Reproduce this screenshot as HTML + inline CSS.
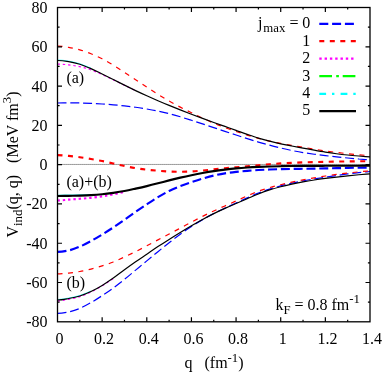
<!DOCTYPE html>
<html><head><meta charset="utf-8"><style>
html,body{margin:0;padding:0;background:#fff;}
body{width:382px;height:373px;overflow:hidden;}
svg{display:block;filter:blur(0.45px);}
text{font-family:"Liberation Serif",serif;font-size:16px;fill:#000;}
</style></head><body>
<svg width="382" height="373" viewBox="0 0 382 373">
<rect width="382" height="373" fill="#fff"/>
<path d="M57.5 164.45 H370.0" stroke="#000" stroke-width="0.7" stroke-dasharray="1.1 0.9" fill="none"/>
<g>
<path d="M57.50 103.00 C61.22 103.00 64.94 102.90 68.66 102.89 C72.38 102.89 76.10 102.88 79.82 102.96 C83.54 103.03 87.26 103.16 90.98 103.33 C94.70 103.50 98.42 103.73 102.14 103.98 C105.86 104.23 109.58 104.51 113.30 104.83 C117.02 105.15 120.74 105.49 124.46 105.89 C128.18 106.30 131.90 106.74 135.62 107.25 C139.35 107.77 143.07 108.36 146.79 108.98 C150.51 109.61 154.23 110.24 157.95 111.01 C161.67 111.79 165.39 112.68 169.11 113.64 C172.83 114.60 176.55 115.69 180.27 116.79 C183.99 117.90 187.71 119.09 191.43 120.27 C195.15 121.46 198.87 122.68 202.59 123.90 C206.31 125.12 210.03 126.36 213.75 127.60 C217.47 128.83 221.19 130.08 224.91 131.32 C228.63 132.55 232.35 133.80 236.07 135.02 C239.79 136.24 243.51 137.47 247.23 138.64 C250.95 139.82 254.67 140.98 258.39 142.07 C262.11 143.17 265.83 144.21 269.55 145.20 C273.27 146.19 276.99 147.13 280.71 148.01 C284.43 148.89 288.15 149.72 291.88 150.47 C295.60 151.23 299.32 151.93 303.04 152.56 C306.76 153.18 310.48 153.72 314.20 154.24 C317.92 154.75 321.64 155.19 325.36 155.63 C329.08 156.07 332.80 156.48 336.52 156.87 C340.24 157.27 343.96 157.64 347.68 157.99 C351.40 158.34 355.12 158.66 358.84 158.98 C362.56 159.30 366.28 159.59 370.00 159.90" fill="none" stroke="#0000ff" stroke-width="1.2" stroke-dasharray="9 3.8"/>
<path d="M57.50 45.99 C61.22 45.99 64.94 46.71 68.66 47.35 C72.38 48.00 76.10 48.78 79.82 49.84 C83.54 50.91 87.26 52.24 90.98 53.73 C94.70 55.23 98.42 56.93 102.14 58.83 C105.86 60.73 109.58 62.91 113.30 65.15 C117.02 67.40 120.74 69.87 124.46 72.30 C128.18 74.72 131.90 77.23 135.62 79.70 C139.35 82.17 143.07 84.68 146.79 87.13 C150.51 89.57 154.23 92.03 157.95 94.36 C161.67 96.68 165.39 98.95 169.11 101.08 C172.83 103.21 176.55 105.18 180.27 107.13 C183.99 109.07 187.71 110.90 191.43 112.74 C195.15 114.58 198.87 116.42 202.59 118.16 C206.31 119.90 210.03 121.62 213.75 123.18 C217.47 124.75 221.19 126.19 224.91 127.57 C228.63 128.96 232.35 130.23 236.07 131.48 C239.79 132.74 243.51 133.96 247.23 135.10 C250.95 136.25 254.67 137.35 258.39 138.34 C262.11 139.34 265.83 140.24 269.55 141.08 C273.27 141.92 276.99 142.67 280.71 143.39 C284.43 144.10 288.15 144.74 291.88 145.39 C295.60 146.04 299.32 146.65 303.04 147.28 C306.76 147.91 310.48 148.56 314.20 149.17 C317.92 149.79 321.64 150.40 325.36 150.95 C329.08 151.49 332.80 151.99 336.52 152.45 C340.24 152.91 343.96 153.31 347.68 153.69 C351.40 154.07 355.12 154.41 358.84 154.74 C362.56 155.08 366.28 155.38 370.00 155.70" fill="none" stroke="#ff0000" stroke-width="1.2" stroke-dasharray="5 5.5"/>
<path d="M57.50 64.09 C61.22 64.09 64.94 64.47 68.66 64.90 C72.38 65.33 76.10 65.81 79.82 66.65 C83.54 67.49 87.26 68.63 90.98 69.96 C94.70 71.28 98.42 72.95 102.14 74.60 C105.86 76.25 109.58 78.07 113.30 79.85 C117.02 81.64 120.74 83.50 124.46 85.31 C128.18 87.11 131.90 88.90 135.62 90.70" fill="none" stroke="#ff00ff" stroke-width="1.2" stroke-dasharray="2.4 2.9"/>
<path d="M57.50 59.99 C61.22 59.99 64.94 60.52 68.66 61.14 C72.38 61.77 76.10 62.59 79.82 63.75 C83.54 64.92 87.26 66.68 90.98 68.14" fill="none" stroke="#00ffff" stroke-width="1.0" opacity="0.7"/>
<path d="M57.50 60.49 C61.22 60.49 64.94 61.02 68.66 61.64 C72.38 62.27 76.10 63.09 79.82 64.25 C83.54 65.42 87.26 67.03 90.98 68.64 C94.70 70.26 98.42 72.14 102.14 73.95 C105.86 75.77 109.58 77.65 113.30 79.52 C117.02 81.39 120.74 83.31 124.46 85.16 C128.18 87.01 131.90 88.85 135.62 90.62 C139.35 92.39 143.07 94.09 146.79 95.77 C150.51 97.46 154.23 99.13 157.95 100.74 C161.67 102.34 165.39 103.89 169.11 105.41 C172.83 106.93 176.55 108.41 180.27 109.88 C183.99 111.35 187.71 112.79 191.43 114.21 C195.15 115.63 198.87 117.03 202.59 118.41 C206.31 119.78 210.03 121.13 213.75 122.46 C217.47 123.79 221.19 125.08 224.91 126.39 C228.63 127.70 232.35 129.00 236.07 130.32 C239.79 131.65 243.51 133.04 247.23 134.33 C250.95 135.62 254.67 136.93 258.39 138.08 C262.11 139.22 265.83 140.25 269.55 141.20 C273.27 142.16 276.99 142.99 280.71 143.79 C284.43 144.59 288.15 145.29 291.88 146.01 C295.60 146.73 299.32 147.40 303.04 148.10 C306.76 148.79 310.48 149.52 314.20 150.19 C317.92 150.87 321.64 151.55 325.36 152.14 C329.08 152.72 332.80 153.25 336.52 153.73 C340.24 154.20 343.96 154.61 347.68 154.99 C351.40 155.37 355.12 155.69 358.84 156.01 C362.56 156.32 366.28 156.60 370.00 156.90" fill="none" stroke="#000" stroke-width="1.2"/>
<path d="M57.50 313.41 C61.22 313.41 64.94 312.81 68.66 311.97 C72.38 311.13 76.10 309.94 79.82 308.38 C83.54 306.81 87.26 304.71 90.98 302.59 C94.70 300.48 98.42 298.10 102.14 295.66 C105.86 293.23 109.58 290.69 113.30 287.98 C117.02 285.27 120.74 282.36 124.46 279.39 C128.18 276.41 131.90 273.22 135.62 270.13 C139.35 267.04 143.07 263.91 146.79 260.84 C150.51 257.76 154.23 254.70 157.95 251.69 C161.67 248.68 165.39 245.69 169.11 242.76 C172.83 239.84 176.55 236.88 180.27 234.16 C183.99 231.44 187.71 228.86 191.43 226.44 C195.15 224.01 198.87 221.75 202.59 219.61 C206.31 217.46 210.03 215.47 213.75 213.56 C217.47 211.65 221.19 209.91 224.91 208.15 C228.63 206.39 232.35 204.72 236.07 203.01 C239.79 201.30 243.51 199.54 247.23 197.89 C250.95 196.24 254.67 194.60 258.39 193.14 C262.11 191.68 265.83 190.37 269.55 189.16 C273.27 187.95 276.99 186.88 280.71 185.87 C284.43 184.87 288.15 183.96 291.88 183.13 C295.60 182.29 299.32 181.54 303.04 180.84 C306.76 180.14 310.48 179.54 314.20 178.93 C317.92 178.33 321.64 177.79 325.36 177.22 C329.08 176.65 332.80 176.07 336.52 175.53 C340.24 174.98 343.96 174.44 347.68 173.97 C351.40 173.49 355.12 173.07 358.84 172.65 C362.56 172.24 366.28 171.88 370.00 171.50" fill="none" stroke="#0000ff" stroke-width="1.2" stroke-dasharray="9 3.8"/>
<path d="M57.50 273.80 C61.22 273.80 64.94 273.46 68.66 273.08 C72.38 272.69 76.10 272.19 79.82 271.52 C83.54 270.85 87.26 270.00 90.98 269.06 C94.70 268.13 98.42 267.08 102.14 265.90 C105.86 264.72 109.58 263.47 113.30 261.99 C117.02 260.51 120.74 258.74 124.46 257.01 C128.18 255.28 131.90 253.48 135.62 251.61 C139.35 249.74 143.07 247.76 146.79 245.80 C150.51 243.85 154.23 241.82 157.95 239.87 C161.67 237.92 165.39 236.04 169.11 234.08 C172.83 232.13 176.55 230.13 180.27 228.14 C183.99 226.15 187.71 224.10 191.43 222.13 C195.15 220.17 198.87 218.21 202.59 216.34 C206.31 214.47 210.03 212.66 213.75 210.93 C217.47 209.19 221.19 207.59 224.91 205.93 C228.63 204.28 232.35 202.65 236.07 200.98 C239.79 199.31 243.51 197.52 247.23 195.90 C250.95 194.28 254.67 192.63 258.39 191.25 C262.11 189.87 265.83 188.70 269.55 187.61 C273.27 186.52 276.99 185.62 280.71 184.72 C284.43 183.81 288.15 182.98 291.88 182.18 C295.60 181.38 299.32 180.62 303.04 179.89 C306.76 179.17 310.48 178.48 314.20 177.83 C317.92 177.18 321.64 176.57 325.36 176.00 C329.08 175.43 332.80 174.89 336.52 174.40 C340.24 173.90 343.96 173.45 347.68 173.02 C351.40 172.60 355.12 172.23 358.84 171.86 C362.56 171.48 366.28 171.15 370.00 170.80" fill="none" stroke="#ff0000" stroke-width="1.2" stroke-dasharray="5 5.5"/>
<path d="M57.50 300.91 C61.22 300.91 64.94 300.02 68.66 299.31 C72.38 298.59 76.10 297.82 79.82 296.61 C83.54 295.40 87.26 293.86 90.98 292.05 C94.70 290.25 98.42 288.05 102.14 285.79 C105.86 283.53 109.58 280.93 113.30 278.51" fill="none" stroke="#ff00ff" stroke-width="1.2" stroke-dasharray="2.4 2.9"/>
<path d="M57.50 299.51 C61.22 299.51 64.94 298.70 68.66 298.03 C72.38 297.36 76.10 296.65 79.82 295.49 C83.54 294.33 87.26 292.54 90.98 291.06" fill="none" stroke="#00ffff" stroke-width="1.0" opacity="0.7"/>
<path d="M57.50 300.01 C61.22 300.01 64.94 299.20 68.66 298.53 C72.38 297.86 76.10 297.15 79.82 295.99 C83.54 294.83 87.26 293.32 90.98 291.56 C94.70 289.81 98.42 287.72 102.14 285.47 C105.86 283.22 109.58 280.68 113.30 278.06 C117.02 275.44 120.74 272.47 124.46 269.76 C128.18 267.05 131.90 264.40 135.62 261.80 C139.35 259.21 143.07 256.73 146.79 254.20 C150.51 251.67 154.23 249.09 157.95 246.62 C161.67 244.15 165.39 241.75 169.11 239.39 C172.83 237.03 176.55 234.72 180.27 232.45 C183.99 230.18 187.71 227.94 191.43 225.77 C195.15 223.60 198.87 221.46 202.59 219.43 C206.31 217.39 210.03 215.43 213.75 213.59 C217.47 211.74 221.19 210.03 224.91 208.34 C228.63 206.66 232.35 205.10 236.07 203.50 C239.79 201.89 243.51 200.29 247.23 198.70 C250.95 197.11 254.67 195.42 258.39 193.96 C262.11 192.49 265.83 191.12 269.55 189.91 C273.27 188.70 276.99 187.67 280.71 186.71 C284.43 185.74 288.15 184.91 291.88 184.10 C295.60 183.30 299.32 182.53 303.04 181.85 C306.76 181.17 310.48 180.57 314.20 180.00 C317.92 179.44 321.64 178.94 325.36 178.46 C329.08 177.97 332.80 177.50 336.52 177.06 C340.24 176.63 343.96 176.21 347.68 175.83 C351.40 175.44 355.12 175.10 358.84 174.76 C362.56 174.43 366.28 174.12 370.00 173.80" fill="none" stroke="#000" stroke-width="1.2"/>
<path d="M57.50 251.81 C61.22 251.81 64.94 251.32 68.66 250.46 C72.38 249.59 76.10 248.20 79.82 246.62 C83.54 245.05 87.26 243.01 90.98 240.99 C94.70 238.97 98.42 236.76 102.14 234.50 C105.86 232.24 109.58 229.89 113.30 227.43 C117.02 224.97 120.74 222.32 124.46 219.73 C128.18 217.14 131.90 214.46 135.62 211.90 C139.35 209.33 143.07 206.80 146.79 204.35 C150.51 201.89 154.23 199.39 157.95 197.16 C161.67 194.93 165.39 192.79 169.11 190.94 C172.83 189.09 176.55 187.54 180.27 186.08 C183.99 184.63 187.71 183.44 191.43 182.19 C195.15 180.93 198.87 179.66 202.59 178.56 C206.31 177.46 210.03 176.43 213.75 175.57 C217.47 174.70 221.19 173.98 224.91 173.36 C228.63 172.75 232.35 172.30 236.07 171.88 C239.79 171.45 243.51 171.14 247.23 170.83 C250.95 170.52 254.67 170.25 258.39 170.03 C262.11 169.81 265.83 169.64 269.55 169.50 C273.27 169.36 276.99 169.28 280.71 169.19 C284.43 169.10 288.15 169.04 291.88 168.97 C295.60 168.90 299.32 168.85 303.04 168.79 C306.76 168.73 310.48 168.67 314.20 168.60 C317.92 168.54 321.64 168.47 325.36 168.39 C329.08 168.32 332.80 168.23 336.52 168.15 C340.24 168.07 343.96 167.99 347.68 167.91 C351.40 167.83 355.12 167.76 358.84 167.70 C362.56 167.63 366.28 167.57 370.00 167.50" fill="none" stroke="#0000ff" stroke-width="2.15" stroke-dasharray="9 3.8"/>
<path d="M57.50 155.10 C61.22 155.10 64.94 155.58 68.66 155.94 C72.38 156.29 76.10 156.73 79.82 157.23 C83.54 157.74 87.26 158.33 90.98 158.97 C94.70 159.60 98.42 160.30 102.14 161.04 C105.86 161.79 109.58 162.62 113.30 163.45 C117.02 164.28 120.74 165.25 124.46 166.03 C128.18 166.82 131.90 167.53 135.62 168.14 C139.35 168.75 143.07 169.24 146.79 169.67 C150.51 170.10 154.23 170.42 157.95 170.72 C161.67 171.02 165.39 171.32 169.11 171.50 C172.83 171.68 176.55 171.81 180.27 171.81 C183.99 171.80 187.71 171.67 191.43 171.46 C195.15 171.25 198.87 170.91 202.59 170.57 C206.31 170.22 210.03 169.77 213.75 169.38 C217.47 169.00 221.19 168.62 224.91 168.27 C228.63 167.92 232.35 167.61 236.07 167.29 C239.79 166.96 243.51 166.65 247.23 166.31 C250.95 165.97 254.67 165.57 258.39 165.23 C262.11 164.88 265.83 164.53 269.55 164.23 C273.27 163.93 276.99 163.65 280.71 163.42 C284.43 163.19 288.15 163.00 291.88 162.83 C295.60 162.66 299.32 162.52 303.04 162.39 C306.76 162.26 310.48 162.16 314.20 162.06 C317.92 161.96 321.64 161.87 325.36 161.79 C329.08 161.71 332.80 161.64 336.52 161.58 C340.24 161.51 343.96 161.45 347.68 161.41 C351.40 161.36 355.12 161.32 358.84 161.29 C362.56 161.25 366.28 161.23 370.00 161.20" fill="none" stroke="#ff0000" stroke-width="2.15" stroke-dasharray="5 5.5"/>
<path d="M57.50 200.50 C61.22 200.50 64.94 199.92 68.66 199.64 C72.38 199.35 76.10 199.08 79.82 198.78 C83.54 198.48 87.26 198.23 90.98 197.83 C94.70 197.43 98.42 196.98 102.14 196.40 C105.86 195.81 109.58 195.09 113.30 194.32 C117.02 193.56 120.74 192.64 124.46 191.80" fill="none" stroke="#ff00ff" stroke-width="2.15" stroke-dasharray="2.4 2.9"/>
<path d="M57.50 195.50 C61.22 195.50 64.94 195.37 68.66 195.31 C72.38 195.25 76.10 195.25 79.82 195.15 C83.54 195.04 87.26 194.84 90.98 194.69" fill="none" stroke="#00ffff" stroke-width="1.6" opacity="0.7"/>
<path d="M57.50 196.00 C61.22 196.00 64.94 195.87 68.66 195.81 C72.38 195.75 76.10 195.75 79.82 195.65 C83.54 195.54 87.26 195.42 90.98 195.19 C94.70 194.97 98.42 194.69 102.14 194.30 C105.86 193.90 109.58 193.38 113.30 192.83 C117.02 192.28 120.74 191.71 124.46 191.02 C128.18 190.32 131.90 189.47 135.62 188.65 C139.35 187.84 143.07 187.02 146.79 186.13 C150.51 185.24 154.23 184.29 157.95 183.33 C161.67 182.37 165.39 181.33 169.11 180.38 C172.83 179.43 176.55 178.50 180.27 177.63 C183.99 176.77 187.71 175.95 191.43 175.18 C195.15 174.41 198.87 173.67 202.59 173.00 C206.31 172.33 210.03 171.70 213.75 171.14 C217.47 170.59 221.19 170.11 224.91 169.65 C228.63 169.20 232.35 168.78 236.07 168.43 C239.79 168.07 243.51 167.77 247.23 167.52 C250.95 167.26 254.67 167.07 258.39 166.89 C262.11 166.72 265.83 166.59 269.55 166.48 C273.27 166.36 276.99 166.27 280.71 166.20 C284.43 166.12 288.15 166.06 291.88 166.01 C295.60 165.96 299.32 165.93 303.04 165.90 C306.76 165.87 310.48 165.85 314.20 165.84 C317.92 165.82 321.64 165.81 325.36 165.79 C329.08 165.77 332.80 165.76 336.52 165.74 C340.24 165.73 343.96 165.71 347.68 165.71 C351.40 165.70 355.12 165.70 358.84 165.70 C362.56 165.69 366.28 165.70 370.00 165.70" fill="none" stroke="#000" stroke-width="2.15"/>
</g>
<g stroke="#000" stroke-width="1.2" fill="none">
<path d="M79.82 321.80 v-2.1 M79.82 7.50 v2.1"/>
<path d="M102.14 321.80 v-4.5 M102.14 7.50 v4.5"/>
<path d="M124.46 321.80 v-2.1 M124.46 7.50 v2.1"/>
<path d="M146.79 321.80 v-4.5 M146.79 7.50 v4.5"/>
<path d="M169.11 321.80 v-2.1 M169.11 7.50 v2.1"/>
<path d="M191.43 321.80 v-4.5 M191.43 7.50 v4.5"/>
<path d="M213.75 321.80 v-2.1 M213.75 7.50 v2.1"/>
<path d="M236.07 321.80 v-4.5 M236.07 7.50 v4.5"/>
<path d="M258.39 321.80 v-2.1 M258.39 7.50 v2.1"/>
<path d="M280.71 321.80 v-4.5 M280.71 7.50 v4.5"/>
<path d="M303.04 321.80 v-2.1 M303.04 7.50 v2.1"/>
<path d="M325.36 321.80 v-4.5 M325.36 7.50 v4.5"/>
<path d="M347.68 321.80 v-2.1 M347.68 7.50 v2.1"/>
<path d="M57.50 27.14 h2.1 M370.00 27.14 h-2.1"/>
<path d="M57.50 46.79 h4.5 M370.00 46.79 h-4.5"/>
<path d="M57.50 66.43 h2.1 M370.00 66.43 h-2.1"/>
<path d="M57.50 86.08 h4.5 M370.00 86.08 h-4.5"/>
<path d="M57.50 105.72 h2.1 M370.00 105.72 h-2.1"/>
<path d="M57.50 125.36 h4.5 M370.00 125.36 h-4.5"/>
<path d="M57.50 145.01 h2.1 M370.00 145.01 h-2.1"/>
<path d="M57.50 164.65 h4.5 M370.00 164.65 h-4.5"/>
<path d="M57.50 184.29 h2.1 M370.00 184.29 h-2.1"/>
<path d="M57.50 203.94 h4.5 M370.00 203.94 h-4.5"/>
<path d="M57.50 223.58 h2.1 M370.00 223.58 h-2.1"/>
<path d="M57.50 243.23 h4.5 M370.00 243.23 h-4.5"/>
<path d="M57.50 262.87 h2.1 M370.00 262.87 h-2.1"/>
<path d="M57.50 282.51 h4.5 M370.00 282.51 h-4.5"/>
<path d="M57.50 302.16 h2.1 M370.00 302.16 h-2.1"/>
</g>
<rect x="57.5" y="7.5" width="312.5" height="314.3" fill="none" stroke="#000" stroke-width="1.3"/>
<g>
<text x="47.6" y="12.9" text-anchor="end">80</text>
<text x="47.6" y="52.2" text-anchor="end">60</text>
<text x="47.6" y="91.5" text-anchor="end">40</text>
<text x="47.6" y="130.8" text-anchor="end">20</text>
<text x="47.6" y="170.1" text-anchor="end">0</text>
<text x="47.6" y="209.3" text-anchor="end">-20</text>
<text x="47.6" y="248.6" text-anchor="end">-40</text>
<text x="47.6" y="287.9" text-anchor="end">-60</text>
<text x="47.6" y="327.2" text-anchor="end">-80</text>
<text x="59.5" y="343.5" text-anchor="middle">0</text>
<text x="104.1" y="343.5" text-anchor="middle">0.2</text>
<text x="148.8" y="343.5" text-anchor="middle">0.4</text>
<text x="193.4" y="343.5" text-anchor="middle">0.6</text>
<text x="238.1" y="343.5" text-anchor="middle">0.8</text>
<text x="282.7" y="343.5" text-anchor="middle">1</text>
<text x="327.4" y="343.5" text-anchor="middle">1.2</text>
<text x="372.0" y="343.5" text-anchor="middle">1.4</text>
</g>
<g>
<path d="M319.3 23.8 H356" stroke="#0000ff" stroke-width="2.3" fill="none" stroke-dasharray="9 3.8"/>
<path d="M319.3 41.2 H356" stroke="#ff0000" stroke-width="2.3" fill="none" stroke-dasharray="5 5.5"/>
<text x="310.2" y="45.5" text-anchor="end">1</text>
<path d="M319.3 58.7 H356" stroke="#ff00ff" stroke-width="2.3" fill="none" stroke-dasharray="2.4 2.9"/>
<text x="310.2" y="63.0" text-anchor="end">2</text>
<path d="M319.3 76.2 H356" stroke="#00ff00" stroke-width="2.3" fill="none" stroke-dasharray="12.7 4.2 2.7 3.8"/>
<text x="310.2" y="80.5" text-anchor="end">3</text>
<path d="M319.3 93.8 H356" stroke="#00ffff" stroke-width="2.3" fill="none" stroke-dasharray="6.8 5.9 2.4 6.2"/>
<text x="310.2" y="98.1" text-anchor="end">4</text>
<path d="M319.3 111.1 H356" stroke="#000" stroke-width="2.3" fill="none"/>
<text x="310.2" y="115.4" text-anchor="end">5</text>
<text x="258" y="28.1">j</text><text x="263.3" y="31.6" style="font-size:12.8px">max</text><text x="289.6" y="28.1">=</text><text x="310.2" y="28.1" text-anchor="end">0</text>
</g>
<text x="66.4" y="83.4">(a)</text>
<text x="66.4" y="186.6">(a)+(b)</text>
<text x="66.4" y="288.4">(b)</text>
<text x="275.4" y="309.5">k<tspan font-size="12.8" dy="4">F</tspan><tspan dy="-4"> = 0.8 fm</tspan><tspan font-size="12.8" dy="-6.5">-1</tspan></text>
<text x="184.5" y="368.2" xml:space="preserve">q   (fm<tspan font-size="12.8" dy="-6.5">-1</tspan><tspan dy="6.5">)</tspan></text>
<text transform="translate(17.6 237.5) rotate(-90)" xml:space="preserve">V<tspan font-size="12.8" dy="4">ind</tspan><tspan dy="-4">(q, q)   (MeV fm</tspan><tspan font-size="12.8" dy="-6.5">3</tspan><tspan dy="6.5">)</tspan></text>
</svg>
</body></html>
